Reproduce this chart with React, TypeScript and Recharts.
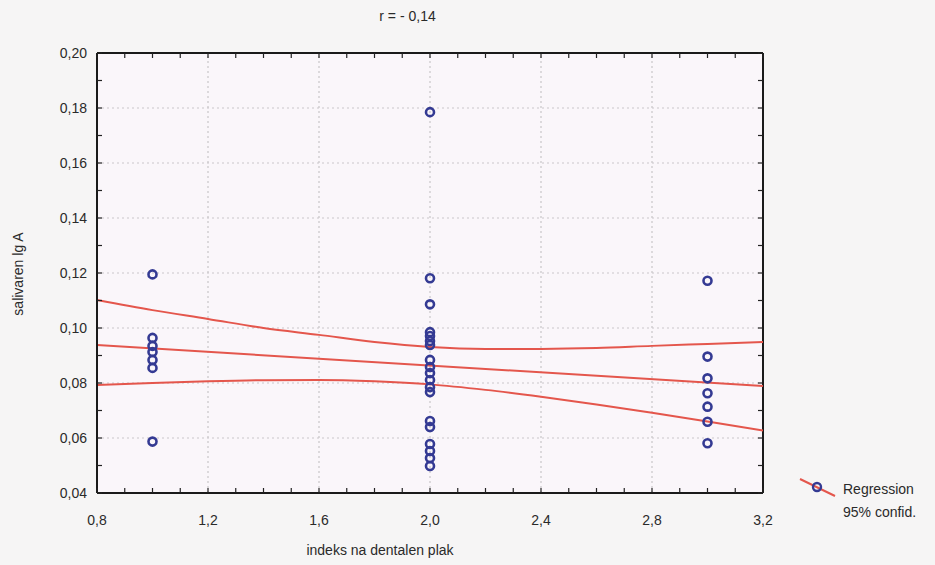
import React from 'react';
import { ComposedChart, Scatter, Line, XAxis, YAxis, ReferenceLine } from 'recharts';

const titleText = 'r = - 0,14';
const xAxisTitle = 'indeks na dentalen plak';
const yAxisTitle = 'salivaren lg A';
const legendItems = ['Regression', '95% confid.'];

const xTicks = [0.8, 0.9, 1.0, 1.1, 1.2, 1.3, 1.4, 1.5, 1.6, 1.7, 1.8, 1.9, 2.0, 2.1, 2.2, 2.3, 2.4, 2.5, 2.6, 2.7, 2.8, 2.9, 3.0, 3.1, 3.2];
const xMajor = [0.8, 1.2, 1.6, 2.0, 2.4, 2.8, 3.2];
const xMajorLabels = ['0,8', '1,2', '1,6', '2,0', '2,4', '2,8', '3,2'];
const yTicks = [0.04, 0.05, 0.06, 0.07, 0.08, 0.09, 0.10, 0.11, 0.12, 0.13, 0.14, 0.15, 0.16, 0.17, 0.18, 0.19, 0.20];
const yMajor = [0.04, 0.06, 0.08, 0.10, 0.12, 0.14, 0.16, 0.18, 0.20];
const yMajorLabels = ['0,04', '0,06', '0,08', '0,10', '0,12', '0,14', '0,16', '0,18', '0,20'];

const groupX = [1.0, 2.0, 3.0];
const valuesAt1 = [0.1195, 0.0964, 0.0935, 0.0913, 0.0884, 0.0855, 0.0587];
const valuesAt2 = [0.1785, 0.1181, 0.1086, 0.0985, 0.0971, 0.0953, 0.0938, 0.0884, 0.0858, 0.0836, 0.0811, 0.0785, 0.0767, 0.0662, 0.0640, 0.0578, 0.0553, 0.0527, 0.0498];
const valuesAt3 = [0.1172, 0.0896, 0.0817, 0.0763, 0.0714, 0.0659, 0.0581];

const lineX = [0.8, 1.0, 1.2, 1.4, 1.6, 1.8, 2.0, 2.2, 2.4, 2.6, 2.8, 3.0, 3.2];
const upperBand = [0.1102, 0.1065, 0.1033, 0.1000, 0.0975, 0.0949, 0.0931, 0.0924, 0.0924, 0.0927, 0.0935, 0.0942, 0.0949];
const lowerBand = [0.0793, 0.0800, 0.0806, 0.0810, 0.0811, 0.0806, 0.0795, 0.0775, 0.0750, 0.0722, 0.0692, 0.0660, 0.0627];
const regX = [0.8, 3.2];
const regY = [0.0938, 0.0789];

const points = [
  ...valuesAt1.map((y) => ({ x: groupX[0], y })),
  ...valuesAt2.map((y) => ({ x: groupX[1], y })),
  ...valuesAt3.map((y) => ({ x: groupX[2], y })),
];
const upperData = lineX.map((x, i) => ({ x, y: upperBand[i] }));
const lowerData = lineX.map((x, i) => ({ x, y: lowerBand[i] }));
const regData = regX.map((x, i) => ({ x, y: regY[i] }));

const FONT = '"Liberation Sans", Arial, sans-serif';
const TEXT = '#2a2a2a';
const LINE_RED = '#e4564c';
const DOT = '#343a93';

const near = (a: number, b: number) => Math.abs(a - b) < 1e-6;

const BottomTick = (props: any) => {
  const { x, y, payload } = props;
  const idx = xMajor.findIndex((m) => near(m, payload.value));
  return (
    <g>
      <line x1={x} x2={x} y1={y} y2={y - 5} stroke="#222" strokeWidth={1.2} />
      {idx >= 0 && (
        <text x={x} y={y + 32} textAnchor="middle" fontFamily={FONT} fontSize={14} fill={TEXT}>
          {xMajorLabels[idx]}
        </text>
      )}
    </g>
  );
};

const TopTick = (props: any) => {
  const { x, y } = props;
  return <line x1={x} x2={x} y1={y} y2={y + 5} stroke="#222" strokeWidth={1.2} />;
};

const LeftTick = (props: any) => {
  const { x, y, payload } = props;
  const idx = yMajor.findIndex((m) => near(m, payload.value));
  return (
    <g>
      <line x1={x} x2={x + 5} y1={y} y2={y} stroke="#222" strokeWidth={1.2} />
      {idx >= 0 && (
        <text x={x - 10} y={y + 5} textAnchor="end" fontFamily={FONT} fontSize={14} fill={TEXT}>
          {yMajorLabels[idx]}
        </text>
      )}
    </g>
  );
};

const RightTick = (props: any) => {
  const { x, y } = props;
  return <line x1={x} x2={x - 5} y1={y} y2={y} stroke="#222" strokeWidth={1.2} />;
};

const OpenCircle = (props: any) => {
  const { cx, cy } = props;
  return <circle cx={cx} cy={cy} r={4} fill="none" stroke={DOT} strokeWidth={2.6} />;
};

export default function App() {
  return (
    <div style={{ position: 'absolute', left: 0, top: 0, width: 935, height: 565, background: '#f6f5f5', overflow: 'hidden' }}>
      <ComposedChart
        width={935}
        height={565}
        margin={{ top: 52, right: 171, bottom: 0, left: 0 }}
        style={{ position: 'absolute', left: 0, top: 0 }}
      >
        <rect x={97} y={53} width={666} height={440} fill="#faf6fa" />
        <XAxis
          xAxisId="b"
          dataKey="x"
          type="number"
          domain={[0.8, 3.2]}
          ticks={xTicks}
          interval={0}
          height={72}
          tickSize={0}
          tickMargin={0}
          tick={<BottomTick />}
          axisLine={{ stroke: '#1a1a1a', strokeWidth: 2 }}
          tickLine={false}
          allowDataOverflow
        />
        <XAxis
          xAxisId="t"
          orientation="top"
          dataKey="x"
          type="number"
          domain={[0.8, 3.2]}
          ticks={xTicks}
          interval={0}
          height={1}
          tickSize={0}
          tickMargin={0}
          tick={<TopTick />}
          axisLine={false}
          tickLine={false}
          allowDataOverflow
        />
        <YAxis
          yAxisId="l"
          dataKey="y"
          type="number"
          domain={[0.04, 0.2]}
          ticks={yTicks}
          interval={0}
          width={97}
          tickSize={0}
          tickMargin={0}
          tick={<LeftTick />}
          axisLine={{ stroke: '#1a1a1a', strokeWidth: 2 }}
          tickLine={false}
          allowDataOverflow
        />
        <YAxis
          yAxisId="r"
          orientation="right"
          dataKey="y"
          type="number"
          domain={[0.04, 0.2]}
          ticks={yTicks}
          interval={0}
          width={1}
          tickSize={0}
          tickMargin={0}
          tick={<RightTick />}
          axisLine={false}
          tickLine={false}
          allowDataOverflow
        />
        {xMajor.slice(1, -1).map((v) => (
          <ReferenceLine key={'vx' + v} x={v} xAxisId="b" yAxisId="l" stroke="#c9c6c9" strokeWidth={1.2} strokeDasharray="2 3" />
        ))}
        {yMajor.slice(1, -1).map((v) => (
          <ReferenceLine key={'hy' + v} y={v} xAxisId="b" yAxisId="l" stroke="#c9c6c9" strokeWidth={1.2} strokeDasharray="2 3" />
        ))}
        <ReferenceLine y={0.2} xAxisId="b" yAxisId="l" stroke="#1a1a1a" strokeWidth={2} />
        <ReferenceLine x={3.2} xAxisId="b" yAxisId="l" stroke="#1a1a1a" strokeWidth={2} />
        <Line data={upperData} dataKey="y" xAxisId="b" yAxisId="l" type="monotone" stroke={LINE_RED} strokeWidth={2} dot={false} isAnimationActive={false} />
        <Line data={lowerData} dataKey="y" xAxisId="b" yAxisId="l" type="monotone" stroke={LINE_RED} strokeWidth={2} dot={false} isAnimationActive={false} />
        <Line data={regData} dataKey="y" xAxisId="b" yAxisId="l" type="linear" stroke={LINE_RED} strokeWidth={2} dot={false} isAnimationActive={false} />
        <Scatter data={points} dataKey="y" xAxisId="b" yAxisId="l" shape={<OpenCircle />} isAnimationActive={false} />
      </ComposedChart>

      <div style={{ position: 'absolute', left: 0, width: 815, top: 8, textAlign: 'center', fontFamily: FONT, fontSize: 14, color: TEXT }}>
        {titleText}
      </div>
      <div style={{ position: 'absolute', left: 180, width: 400, top: 542, textAlign: 'center', fontFamily: FONT, fontSize: 14, color: TEXT }}>
        {xAxisTitle}
      </div>
      <div
        style={{
          position: 'absolute',
          left: 18,
          top: 274,
          transform: 'translate(-50%, -50%) rotate(-90deg)',
          whiteSpace: 'nowrap',
          fontFamily: FONT,
          fontSize: 14,
          color: TEXT,
        }}
      >
        {yAxisTitle}
      </div>
      <svg style={{ position: 'absolute', left: 795, top: 474 }} width={45} height={26}>
        <line x1={5} y1={5} x2={40} y2={22} stroke={LINE_RED} strokeWidth={2} />
        <circle cx={22} cy={13} r={4} fill="none" stroke={DOT} strokeWidth={2.4} />
      </svg>
      <div style={{ position: 'absolute', left: 843, top: 478, fontFamily: FONT, fontSize: 14, color: TEXT, lineHeight: '23px' }}>
        <div>{legendItems[0]}</div>
        <div>{legendItems[1]}</div>
      </div>
    </div>
  );
}
